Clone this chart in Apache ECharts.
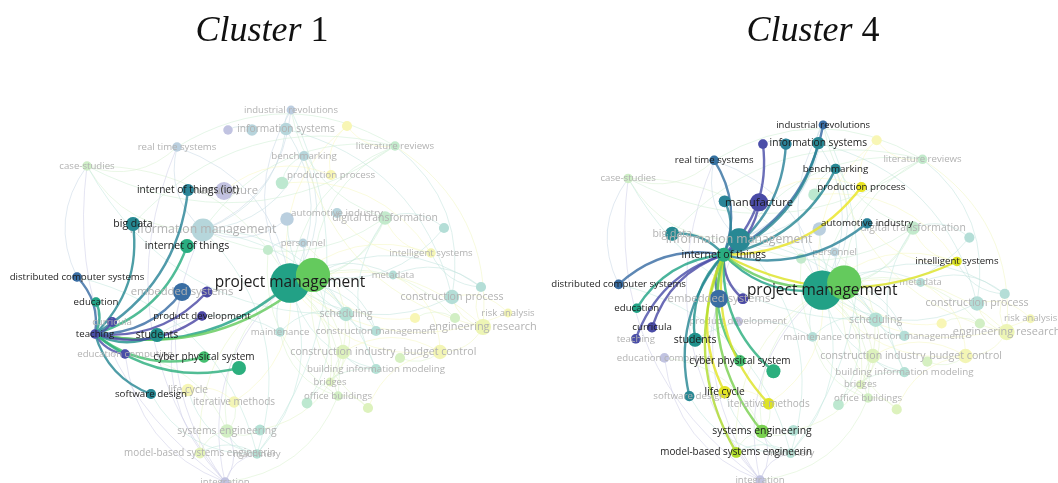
<!DOCTYPE html>
<html>
<head>
<meta charset="utf-8">
<script src="https://cdn.jsdelivr.net/npm/echarts@6/dist/echarts.min.js"></script>
<style>
html, body { margin: 0; padding: 0; background: #fff; }
#chart { width: 1058px; height: 483px; }
</style>
</head>
<body>
<div id="chart"></div>
<script>
// keyword co-occurrence map, layout coordinates
var keywords = [
    'project management', 'project manager', 'internet of things (iot)', 'big data', 'internet of things',
    'distributed computer systems', 'education', 'teaching', 'curricula', 'students',
    'product development', 'embedded systems', 'computer science', 'education computing', 'cyber physical system',
    'simulation', 'software design', 'information systems', 'enterprise resource planning', 'information technology',
    'industrial revolutions', 'real time systems', 'case-studies', 'benchmarking', 'literature reviews',
    'sustainability', 'production process', 'industry 4.0', 'manufacture', 'automotive industry',
    'digital transformation', 'engineering management', 'decision making', 'information management', 'personnel',
    'knowledge management', 'intelligent systems', 'metadata', 'construction', 'construction process',
    'risk analysis', 'engineering research', 'cost estimation', 'risk management', 'scheduling',
    'construction management', 'maintenance', 'construction industry', 'budget control', 'cost control',
    'building information modeling', 'bridges', 'office buildings', 'buildings', 'quality control',
    'life cycle', 'iterative methods', 'systems engineering', 'requirements engineering', 'model-based systems engineerin',
    'machinery', 'integration'
];
var mapX = [
    290, 313, 188, 133, 187,
    77, 96, 95, 112, 157,
    202, 182, 207, 125, 204,
    239, 151, 286, 228, 252,
    291, 177, 87, 304, 395,
    347, 331, 282, 224, 337,
    385, 444, 287, 203, 303,
    268, 431, 393, 481, 452,
    508, 483, 415, 455, 346,
    376, 280, 343, 440, 400,
    376, 330, 338, 307, 368,
    188, 234, 227, 260, 200,
    257, 225
];
var mapY = [
    283, 275, 190, 224, 246,
    277, 302, 334, 322, 335,
    316, 292, 292, 354, 357,
    368, 394, 129, 130, 130,
    110, 147, 166, 156, 146,
    126, 175, 183, 191, 213,
    218, 228, 219, 230, 243,
    250, 253, 275, 287, 297,
    313, 327, 318, 318, 314,
    331, 332, 352, 352, 358,
    369, 382, 396, 403, 408,
    390, 402, 431, 430, 453,
    454, 482
];
var occurrences = [
    120, 90, 11, 15, 15,
    7, 7, 7, 8, 15,
    7, 25, 9, 7, 10,
    15, 8, 12, 7, 10,
    6, 7, 7, 8, 7,
    8, 8, 12, 25, 8,
    14, 8, 14, 40, 6,
    8, 7, 6, 8, 16,
    6, 20, 8, 8, 16,
    8, 7, 16, 16, 8,
    8, 6, 7, 9, 8,
    12, 10, 14, 9, 9,
    7, 7
];
// overlay score, 0 = oldest (purple) .. 1 = newest (yellow)
var avgScore = [
    0.57, 0.76, 0.43, 0.46, 0.62,
    0.33, 0.58, 0.2, 0.18, 0.5,
    0.15, 0.33, 0.17, 0.2, 0.7,
    0.63, 0.45, 0.45, 0.2, 0.42,
    0.33, 0.35, 0.78, 0.45, 0.72,
    0.97, 0.97, 0.68, 0.18, 0.42,
    0.72, 0.55, 0.35, 0.45, 0.4,
    0.72, 0.95, 0.55, 0.55, 0.55,
    0.95, 0.92, 0.97, 0.8, 0.6,
    0.55, 0.55, 0.85, 0.95, 0.82,
    0.6, 0.85, 0.8, 0.68, 0.85,
    0.96, 0.95, 0.8, 0.6, 0.88,
    0.6, 0.2
];
var unlabeled = [
    'project manager', 'computer science', 'simulation', 'enterprise resource planning', 'information technology',
    'sustainability', 'industry 4.0', 'engineering management', 'decision making', 'knowledge management',
    'construction', 'cost estimation', 'risk management', 'cost control', 'buildings', 'quality control',
    'requirements engineering'
];

var bgLinks = [
    ['project management', 'case-studies'], ['project management', 'literature reviews'], ['project management', 'digital transformation'],
    ['project management', 'scheduling'], ['project management', 'construction process'], ['project management', 'engineering research'],
    ['project management', 'budget control'], ['project management', 'construction industry'], ['project management', 'building information modeling'],
    ['project management', 'office buildings'], ['project management', 'systems engineering'], ['project management', 'machinery'],
    ['project management', 'information systems'], ['project management', 'industrial revolutions'], ['project management', 'real time systems'],
    ['project management', 'intelligent systems'], ['project management', 'risk analysis'], ['project management', 'metadata'],
    ['project management', 'personnel'], ['project management', 'bridges'], ['project management', 'integration'],
    ['project management', 'iterative methods'], ['project management', 'maintenance'], ['project management', 'construction management'],
    ['project management', 'benchmarking'], ['project management', 'sustainability'], ['project management', 'model-based systems engineerin'],
    ['project manager', 'construction management'], ['project manager', 'cost estimation'], ['project manager', 'risk management'],
    ['project manager', 'digital transformation'], ['project manager', 'literature reviews'], ['project manager', 'quality control'],
    ['project manager', 'construction'], ['project manager', 'engineering management'], ['project manager', 'buildings'],
    ['information management', 'information systems'], ['information management', 'real time systems'], ['information management', 'industrial revolutions'],
    ['information management', 'case-studies'], ['information management', 'benchmarking'], ['information management', 'scheduling'],
    ['information management', 'integration'], ['information management', 'machinery'], ['information management', 'decision making'],
    ['information management', 'literature reviews'], ['information management', 'digital transformation'], ['information management', 'building information modeling'],
    ['construction industry', 'building information modeling'], ['construction industry', 'bridges'], ['construction industry', 'office buildings'],
    ['construction industry', 'budget control'], ['construction process', 'engineering research'], ['construction process', 'risk analysis'],
    ['budget control', 'engineering research'], ['budget control', 'cost control'], ['building information modeling', 'buildings'],
    ['office buildings', 'quality control'], ['scheduling', 'construction management'], ['maintenance', 'scheduling'],
    ['systems engineering', 'machinery'], ['systems engineering', 'integration'], ['machinery', 'integration'],
    ['model-based systems engineerin', 'systems engineering'], ['iterative methods', 'life cycle'], ['digital transformation', 'engineering management'],
    ['digital transformation', 'intelligent systems'], ['literature reviews', 'sustainability'], ['industrial revolutions', 'information systems'],
    ['enterprise resource planning', 'information technology'], ['benchmarking', 'industry 4.0'], ['real time systems', 'case-studies'],
    ['intelligent systems', 'construction'], ['metadata', 'construction'], ['case-studies', 'scheduling'],
    ['literature reviews', 'engineering research'], ['real time systems', 'integration'], ['industrial revolutions', 'machinery'],
    ['digital transformation', 'building information modeling'], ['knowledge management', 'personnel'], ['embedded systems', 'integration'],
    ['education computing', 'systems engineering'], ['software design', 'machinery'], ['students', 'maintenance'],
    ['case-studies', 'distributed computer systems'], ['literature reviews', 'construction process'], ['sustainability', 'production process'],
    ['manufacture', 'production process'], ['automotive industry', 'intelligent systems'], ['cost estimation', 'risk management'],
    ['case-studies', 'literature reviews'], ['real time systems', 'literature reviews'], ['industrial revolutions', 'digital transformation'],
    ['information systems', 'construction process'], ['benchmarking', 'engineering research'], ['industry 4.0', 'intelligent systems'],
    ['decision making', 'scheduling'], ['personnel', 'construction industry'], ['knowledge management', 'office buildings'],
    ['metadata', 'budget control'], ['construction', 'engineering research'], ['scheduling', 'bridges'],
    ['maintenance', 'office buildings'], ['iterative methods', 'systems engineering'], ['life cycle', 'machinery'],
    ['requirements engineering', 'systems engineering'], ['requirements engineering', 'construction industry'], ['quality control', 'budget control'],
    ['integration', 'office buildings'], ['model-based systems engineerin', 'machinery'], ['case-studies', 'integration'],
    ['distributed computer systems', 'machinery'], ['education computing', 'integration'], ['big data', 'literature reviews']
];

var cluster1Focus = 'teaching';
var cluster1Links = [
    'distributed computer systems', 'big data', 'internet of things (iot)', 'internet of things', 'project management',
    'project manager', 'education', 'curricula', 'students', 'product development', 'computer science',
    'embedded systems', 'education computing', 'cyber physical system', 'simulation', 'software design'
];
var cluster1Labels = [
    'project management', 'internet of things (iot)', 'big data', 'internet of things', 'distributed computer systems',
    'education', 'teaching', 'students', 'product development', 'cyber physical system', 'software design'
];
var cluster1NoLabel = [];

var cluster4Focus = 'internet of things';
var cluster4Links = [
    'industrial revolutions', 'information systems', 'information technology', 'enterprise resource planning', 'real time systems',
    'benchmarking', 'production process', 'manufacture', 'internet of things (iot)', 'automotive industry',
    'information management', 'intelligent systems', 'big data', 'distributed computer systems', 'education',
    'curricula', 'teaching', 'students', 'embedded systems', 'computer science', 'cyber physical system',
    'simulation', 'software design', 'life cycle', 'iterative methods', 'systems engineering',
    'model-based systems engineerin', 'project management', 'project manager'
];
var cluster4Labels = [
    'industrial revolutions', 'information systems', 'real time systems', 'benchmarking', 'production process',
    'manufacture', 'automotive industry', 'internet of things', 'intelligent systems', 'distributed computer systems',
    'project management', 'education', 'curricula', 'students', 'cyber physical system', 'life cycle',
    'systems engineering', 'model-based systems engineerin'
];
var cluster4NoLabel = ['internet of things (iot)'];

// viridis-like ramp, low end lifted a little towards the map's purple
var palette = ['#46327e', '#4b3d9e', '#4a4ea8', '#3d66a6', '#2e7e9c', '#21918c', '#22a884', '#44bf70', '#7ad151', '#bddf26', '#fde725'];

function hexToRgb(h) {
    return [parseInt(h.substr(1, 2), 16), parseInt(h.substr(3, 2), 16), parseInt(h.substr(5, 2), 16)];
}
function rgbStr(c) {
    return 'rgb(' + Math.round(c[0]) + ',' + Math.round(c[1]) + ',' + Math.round(c[2]) + ')';
}
function scoreColor(t, fade) {
    var p = t * (palette.length - 1);
    var i = Math.min(Math.floor(p), palette.length - 2);
    var f = p - i;
    var a = hexToRgb(palette[i]), b = hexToRgb(palette[i + 1]);
    var c = [0, 1, 2].map(function (k) { return a[k] + (b[k] - a[k]) * f; });
    if (fade) {
        c = c.map(function (v) { return v + (255 - v) * fade; });
    }
    return rgbStr(c);
}
function nodeSize(i) { return 3.6 * Math.sqrt(occurrences[i]); }
function labelSize(i) { return 7.8 + 0.7 * Math.sqrt(occurrences[i]); }
function idx(name) { return keywords.indexOf(name); }

function buildPanel(k, focus, links, darkLabels, noLabel) {
    var hi = [focus].concat(links);
    var bgNodes = keywords.map(function (name, i) {
        var showLabel = hi.indexOf(name) < 0 && unlabeled.indexOf(name) < 0;
        return {
            id: 'n' + i,
            name: name,
            value: [mapX[i], mapY[i]],
            symbolSize: nodeSize(i),
            itemStyle: { color: scoreColor(avgScore[i], 0.66) },
            label: { show: showLabel, fontSize: labelSize(i), color: '#b2b2b2' }
        };
    });
    var bgEdges = bgLinks.map(function (p, j) {
        return {
            source: 'n' + idx(p[0]),
            target: 'n' + idx(p[1]),
            lineStyle: { color: scoreColor(avgScore[idx(p[1])], 0.72), opacity: 0.6, width: 0.9, curveness: j % 2 ? 0.3 : -0.3 }
        };
    });
    var hiNodes = hi.map(function (name) {
        var i = idx(name);
        var dark = darkLabels.indexOf(name) >= 0;
        var show = unlabeled.indexOf(name) < 0 && noLabel.indexOf(name) < 0;
        return {
            id: 'n' + i,
            name: name,
            value: [mapX[i], mapY[i]],
            symbolSize: nodeSize(i),
            itemStyle: { color: scoreColor(avgScore[i], 0) },
            label: { show: show, fontSize: labelSize(i), color: dark ? '#1c1c1c' : '#b2b2b2' }
        };
    });
    var hiEdges = links.map(function (name) {
        return {
            source: 'n' + idx(focus),
            target: 'n' + idx(name),
            lineStyle: { color: scoreColor(avgScore[idx(name)], 0), opacity: 0.82, width: 2.4, curveness: -0.25 }
        };
    });
    var common = {
        type: 'graph',
        layout: 'none',
        coordinateSystem: 'cartesian2d',
        xAxisIndex: k,
        yAxisIndex: k,
        symbol: 'circle',
        silent: true,
        label: { show: true, position: 'inside', fontFamily: 'Open Sans' },
        emphasis: { disabled: true }
    };
    return [
        Object.assign({}, common, { z: 1, data: bgNodes, links: bgEdges }),
        Object.assign({}, common, { z: 2, data: hiNodes, links: hiEdges })
    ];
}

var chart = echarts.init(document.getElementById('chart'));

var titleRich = {
    i: { fontFamily: 'Liberation Serif', fontStyle: 'italic', fontWeight: 'normal', fontSize: 36, color: '#111' },
    n: { fontFamily: 'Liberation Serif', fontWeight: 'normal', fontSize: 36, color: '#111' }
};

var axisBase = { min: 0, show: false };

var option = {
    backgroundColor: '#fff',
    animation: false,
    title: [
        { text: '{i|Cluster} {n|1}', left: 257, top: 9, textAlign: 'center', textStyle: { fontFamily: 'Liberation Serif', fontWeight: 'normal', fontSize: 36, rich: titleRich } },
        { text: '{i|Cluster} {n|4}', left: 808, top: 9, textAlign: 'center', textStyle: { fontFamily: 'Liberation Serif', fontWeight: 'normal', fontSize: 36, rich: titleRich } }
    ],
    grid: [
        { left: 0, top: 0, width: 520, height: 483 },
        { left: 545, top: 20, width: 497, height: 461 }
    ],
    xAxis: [
        Object.assign({ type: 'value', max: 520, gridIndex: 0 }, axisBase),
        Object.assign({ type: 'value', max: 520, gridIndex: 1 }, axisBase)
    ],
    yAxis: [
        Object.assign({ type: 'value', max: 483, inverse: true, gridIndex: 0 }, axisBase),
        Object.assign({ type: 'value', max: 483, inverse: true, gridIndex: 1 }, axisBase)
    ],
    series: buildPanel(0, cluster1Focus, cluster1Links, cluster1Labels, cluster1NoLabel)
        .concat(buildPanel(1, cluster4Focus, cluster4Links, cluster4Labels, cluster4NoLabel))
};

chart.setOption(option);
</script>
</body>
</html>
